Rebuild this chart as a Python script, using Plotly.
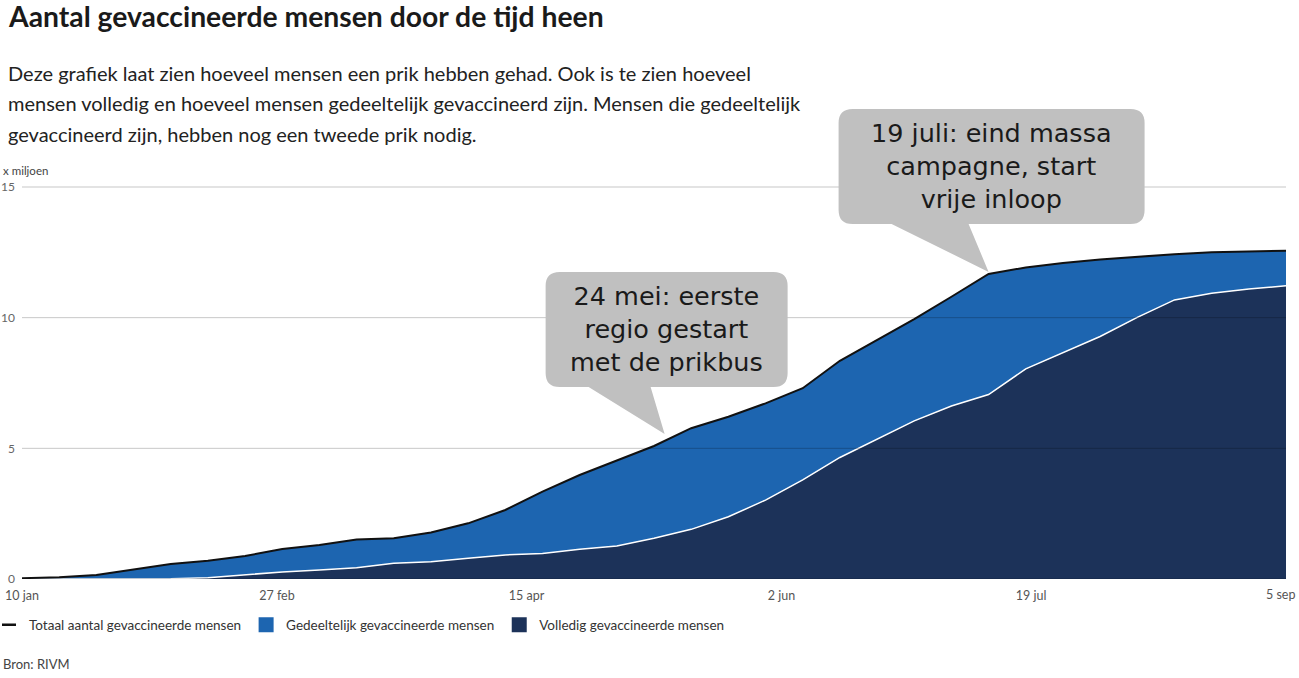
import plotly.graph_objects as go
import pandas as pd

# ---------------- data (x miljoen) ----------------
dates = pd.date_range("2021-01-10", "2021-09-05", freq="7D").strftime("%Y-%m-%d").tolist()
totaal = [0.03, 0.07, 0.15, 0.37, 0.57, 0.70, 0.88, 1.15, 1.30, 1.51, 1.56, 1.78,
          2.13, 2.64, 3.34, 3.98, 4.55, 5.09, 5.77, 6.21, 6.72, 7.30, 8.35, 9.15,
          9.94, 10.80, 11.67, 11.92, 12.09, 12.23, 12.33, 12.43, 12.50, 12.54, 12.56]
volledig = [0.0, 0.0, 0.0, 0.0, 0.01, 0.05, 0.15, 0.27, 0.34, 0.43, 0.60, 0.66,
            0.79, 0.92, 0.98, 1.14, 1.26, 1.56, 1.90, 2.38, 3.02, 3.79, 4.65, 5.36,
            6.05, 6.62, 7.06, 8.04, 8.65, 9.28, 10.01, 10.68, 10.93, 11.10, 11.22]

x_tickvals = ["2021-01-10", "2021-02-27", "2021-04-15", "2021-06-02", "2021-07-19"]
x_ticktext = ["10 jan", "27 feb", "15 apr", "2 jun", "19 jul"]
last_tick_text = "5 sep"
y_tickvals = [0, 5, 10, 15]

series_names = ["Totaal aantal gevaccineerde mensen",
                "Gedeeltelijk gevaccineerde mensen",
                "Volledig gevaccineerde mensen"]

callouts = [
    {"date": "2021-05-11", "value": 5.55,
     "text": "24 mei: eerste<br>regio gestart<br>met de prikbus",
     "box": (-119, 123, 47, 162), "base": (-76, -14)},
    {"date": "2021-07-11", "value": 11.75,
     "text": "19 juli: eind massa<br>campagne, start<br>vrije inloop",
     "box": (-150, 156, 48, 163), "base": (-97, -20)},
]

# ---------------- style ----------------
W, H = 1299, 678
PLOT_L, PLOT_R, PLOT_T, PLOT_B = 22, 1286, 95, 579
Y_TOP_VAL = 15 * (PLOT_B - PLOT_T) / (PLOT_B - 187)
FONT = "Lato"
C_PART = "#1d65b0"
C_FULL = "#1c3259"

fig = go.Figure()
fig.add_trace(go.Scatter(x=dates, y=volledig, mode="lines", fill="tozeroy",
                         fillcolor=C_FULL, line=dict(color="white", width=1.5),
                         showlegend=False, hoverinfo="skip"))
fig.add_trace(go.Scatter(x=dates, y=totaal, mode="lines", fill="tonexty",
                         fillcolor=C_PART, line=dict(color="#111111", width=2),
                         showlegend=False, hoverinfo="skip"))
# legend entries
fig.add_trace(go.Scatter(x=[None], y=[None], mode="markers", name=series_names[0],
                         marker=dict(symbol="line-ew", size=10, color="#111",
                                     line=dict(color="#111", width=2.5))))
fig.add_trace(go.Scatter(x=[None], y=[None], mode="markers", name=series_names[1],
                         marker=dict(symbol="square", size=15, color=C_PART)))
fig.add_trace(go.Scatter(x=[None], y=[None], mode="markers", name=series_names[2],
                         marker=dict(symbol="square", size=15, color=C_FULL)))

shapes = []
for v in y_tickvals:
    shapes.append(dict(type="line", xref="x", yref="y", x0=dates[0], x1=dates[-1],
                       y0=v, y1=v, line=dict(color="rgba(0,0,0,0.22)", width=1),
                       layer="above"))

annotations = []
r = 14
for c in callouts:
    L, R, B, T = c["box"]
    pl, pr = c["base"]
    path = (f"M {pl},{B} L 0,0 L {pr},{B} L {R-r},{B} Q {R},{B} {R},{B+r} "
            f"L {R},{T-r} Q {R},{T} {R-r},{T} L {L+r},{T} Q {L},{T} {L},{T-r} "
            f"L {L},{B+r} Q {L},{B} {L+r},{B} Z")
    shapes.append(dict(type="path", xref="x", yref="y", xsizemode="pixel", ysizemode="pixel",
                       xanchor=c["date"], yanchor=c["value"], path=path,
                       fillcolor="#c0c0c0", line=dict(width=0), layer="above"))
    annotations.append(dict(x=c["date"], y=c["value"], xref="x", yref="y",
                            text=c["text"], showarrow=False, xanchor="center", yanchor="middle",
                            xshift=(L + R) / 2, yshift=(B + T) / 2,
                            font=dict(family="DejaVu Sans", size=25.5, color="#1a1a1a")))

def txt(text, ycenter, xleft, size, color, weight=400):
    return dict(text=text, xref="paper", yref="paper", x=0, y=0, xanchor="left",
                yanchor="middle", xshift=xleft - PLOT_L, yshift=PLOT_B - ycenter,
                showarrow=False, font=dict(family=FONT, size=size, color=color, weight=weight))

annotations += [
    txt("Aantal gevaccineerde mensen door de tijd heen", 16, 6, 28.3, "#1a1a1a", 700),
    txt("Deze grafiek laat zien hoeveel mensen een prik hebben gehad. Ook is te zien hoeveel",
        73, 6, 20, "#222"),
    txt("mensen volledig en hoeveel mensen gedeeltelijk gevaccineerd zijn. Mensen die gedeeltelijk",
        103, 6, 20, "#222"),
    txt("gevaccineerd zijn, hebben nog een tweede prik nodig.", 134, 6, 20, "#222"),
    txt("x miljoen", 170, 1, 11.5, "#444"),
    txt("Bron: RIVM", 664, 1, 13, "#444"),
]
# last x tick label, right-aligned at the end of the axis
annotations.append(dict(x=dates[-1], y=0, xref="x", yref="y", text=last_tick_text,
                        showarrow=False, xanchor="right", yanchor="middle",
                        xshift=11, yshift=-15,
                        font=dict(family=FONT, size=12.5, color="#555")))

plot_h = PLOT_B - PLOT_T
plot_w = PLOT_R - PLOT_L
fig.update_layout(
    width=W, height=H,
    margin=dict(l=PLOT_L, r=W - PLOT_R, t=PLOT_T, b=H - PLOT_B, autoexpand=False),
    paper_bgcolor="white", plot_bgcolor="white",
    hovermode=False,
    font=dict(family=FONT, color="#555"),
    xaxis=dict(type="date", range=[dates[0], dates[-1]], tickvals=x_tickvals,
               ticktext=x_ticktext, showgrid=False, zeroline=False, showline=False,
               ticks="", tickfont=dict(size=12.5, color="#555"), ticklabelstandoff=7,
               automargin=False),
    yaxis=dict(range=[0, Y_TOP_VAL], tickvals=y_tickvals, showgrid=False, zeroline=False,
               showline=False, ticks="", tickfont=dict(size=12, color="#666"),
               ticklabelstandoff=6, automargin=False),
    legend=dict(orientation="h", x=-(PLOT_L + 11) / plot_w, xanchor="left",
                y=-(625 - PLOT_B) / plot_h, yanchor="middle", traceorder="normal",
                font=dict(family=FONT, size=13.5, color="#333"), itemsizing="trace",
                bgcolor="rgba(0,0,0,0)"),
    shapes=shapes,
    annotations=annotations,
)

fig.write_html("out.html", config={"displayModeBar": False},
               post_script="document.body.style.margin='0';")
